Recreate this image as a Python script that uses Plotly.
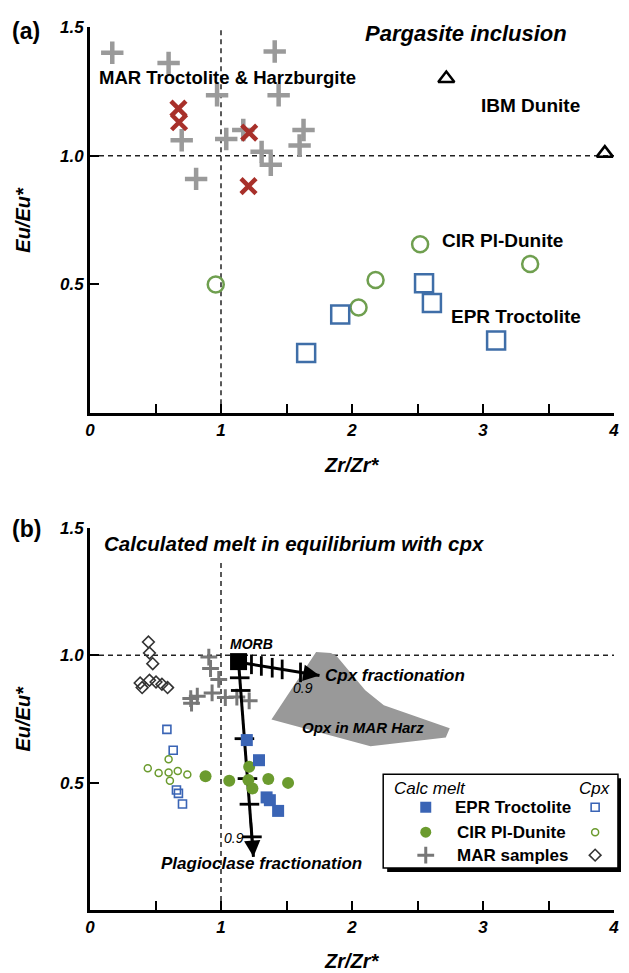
import plotly.graph_objects as go

FONT = "Liberation Sans, Arial, Helvetica, sans-serif"

# ---------------- Panel (a): Pargasite inclusion ----------------
mar_plus_x = [0.17, 0.60, 0.97, 1.41, 1.44, 0.70, 1.04, 1.17, 1.31, 1.38, 0.81, 1.63, 1.60]
mar_plus_y = [1.40, 1.36, 1.235, 1.405, 1.235, 1.06, 1.065, 1.10, 1.015, 0.965, 0.91, 1.10, 1.04]
mar_x_x = [0.675, 0.68, 1.215, 1.21]
mar_x_y = [1.183, 1.13, 1.09, 0.882]
ibm_x = [2.72, 3.93]
ibm_y = [1.30, 1.01]
cir_x = [0.96, 2.05, 2.18, 2.52, 3.36]
cir_y = [0.50, 0.41, 0.517, 0.656, 0.579]
epr_x = [1.65, 1.91, 2.55, 2.61, 3.10]
epr_y = [0.234, 0.383, 0.505, 0.428, 0.282]

# ---------------- Panel (b): calculated melt ----------------
morb_x = [1.134]
morb_y = [0.975]
epr_melt_x = [1.197, 1.29, 1.348, 1.373, 1.436]
epr_melt_y = [0.667, 0.588, 0.442, 0.431, 0.389]
cir_melt_x = [0.882, 1.063, 1.215, 1.209, 1.24, 1.361, 1.512]
cir_melt_y = [0.525, 0.507, 0.562, 0.51, 0.477, 0.514, 0.499]
mar_melt_x = [0.907, 0.92, 0.983, 0.769, 0.775, 0.819, 0.932, 1.033, 1.121, 1.215]
mar_melt_y = [0.993, 0.948, 0.905, 0.83, 0.812, 0.839, 0.852, 0.834, 0.836, 0.821]
epr_cpx_x = [0.587, 0.635, 0.66, 0.675, 0.706]
epr_cpx_y = [0.709, 0.627, 0.471, 0.458, 0.416]
cir_cpx_x = [0.441, 0.524, 0.60, 0.60, 0.61, 0.67, 0.743]
cir_cpx_y = [0.556, 0.538, 0.592, 0.54, 0.507, 0.546, 0.532]
mar_cpx_x = [0.446, 0.454, 0.479, 0.383, 0.398, 0.454, 0.504, 0.549, 0.592]
mar_cpx_y = [1.052, 1.009, 0.967, 0.891, 0.873, 0.902, 0.895, 0.886, 0.873]

# fractionation paths (start = MORB, end = arrow tip) and tick marks
cpx_path_x = [1.134, 1.752]
cpx_path_y = [0.9726, 0.9205]
cpx_tick_x = [1.2325, 1.308, 1.391, 1.467, 1.607]
cpx_tick_y = [0.9643, 0.958, 0.951, 0.9445, 0.9327]
plag_path_x = [1.134, 1.2476]
plag_path_y = [0.9726, 0.2088]
plag_tick_x = [1.143, 1.1505, 1.1787, 1.202, 1.217, 1.236]
plag_tick_y = [0.9115, 0.8617, 0.6725, 0.5158, 0.4152, 0.2871]

# Opx field in MAR harzburgite
opx_x = [1.726, 1.839, 1.884, 2.101, 2.243, 2.746, 2.716, 2.141, 1.385, 1.726]
opx_y = [1.013, 1.009, 0.996, 0.863, 0.804, 0.713, 0.677, 0.643, 0.748, 1.013]

# axis ticks
x_tickvals = [0, 0.5, 1, 1.5, 2, 2.5, 3, 3.5, 4]
x_ticktext = ["0", "", "1", "", "2", "", "3", "", "4"]
y_tickvals = [0.5, 1.0, 1.5]
y_ticktext = ["0.5", "1.0", "1.5"]

RED = "#a8302a"
GRAY_A = "#9a9a9a"
GRAY_B = "#777777"
GREEN_A = "#6f9f4f"
BLUE_A = "#3f6ea8"
BLUE_B = "#3a64b5"
GREEN_B = "#6b9b2e"

fig = go.Figure()

def sc(x, y, symbol, size, color, lw=0, fill=None, xa="x", ya="y"):
    m = dict(symbol=symbol, size=size, line=dict(color=color, width=lw))
    m["color"] = fill if fill is not None else color
    fig.add_trace(go.Scatter(x=x, y=y, mode="markers", marker=m, xaxis=xa, yaxis=ya,
                             showlegend=False, cliponaxis=False, hoverinfo="skip"))

# panel (a)
sc(mar_plus_x, mar_plus_y, "cross-thin-open", 16, GRAY_A, 4.5)
sc(mar_x_x, mar_x_y, "x-thin-open", 15, RED, 4.5)
sc(ibm_x, ibm_y, "triangle-up-open", 14, "black", 2.5)
sc(cir_x, cir_y, "circle-open", 16, GREEN_A, 2.5)
sc(epr_x, epr_y, "square-open", 18, BLUE_A, 2.5)

# panel (b)
fig.add_trace(go.Scatter(x=opx_x, y=opx_y, mode="lines", fill="toself", fillcolor="#999999",
                         line=dict(width=0, color="#999999"), xaxis="x2", yaxis="y2",
                         showlegend=False, hoverinfo="skip"))
sc(mar_cpx_x, mar_cpx_y, "diamond-open", 9, "#333333", 1.6, xa="x2", ya="y2")
sc(cir_cpx_x, cir_cpx_y, "circle-open", 7, GREEN_B, 1.5, xa="x2", ya="y2")
sc(epr_cpx_x, epr_cpx_y, "square-open", 8, BLUE_B, 1.6, xa="x2", ya="y2")
sc(mar_melt_x, mar_melt_y, "cross-thin-open", 12, GRAY_B, 3, xa="x2", ya="y2")

for px_, py_ in [(cpx_path_x, cpx_path_y), (plag_path_x, plag_path_y)]:
    fig.add_trace(go.Scatter(x=px_, y=py_, mode="lines", line=dict(color="black", width=3),
                             xaxis="x2", yaxis="y2", showlegend=False, hoverinfo="skip"))
sc(cpx_tick_x, cpx_tick_y, "line-ns", 14, "black", 2.8, xa="x2", ya="y2")
sc(plag_tick_x, plag_tick_y, "line-ew", 14, "black", 2.8, xa="x2", ya="y2")

sc(cir_melt_x, cir_melt_y, "circle", 12, GREEN_B, 0, xa="x2", ya="y2")
sc(epr_melt_x, epr_melt_y, "square", 12, BLUE_B, 0, xa="x2", ya="y2")
sc(morb_x, morb_y, "square", 17, "black", 0, xa="x2", ya="y2")

# legend markers (custom two-column legend)
leg_melt_x = 2.563
leg_cpx_x = 3.856
leg_rows = [0.4034, 0.3055, 0.2154]
sc([leg_melt_x], [leg_rows[0]], "square", 11, BLUE_B, 0, xa="x2", ya="y2")
sc([leg_melt_x], [leg_rows[1]], "circle", 11, GREEN_B, 0, xa="x2", ya="y2")
sc([leg_melt_x], [leg_rows[2]], "cross-thin-open", 12, GRAY_B, 3, xa="x2", ya="y2")
sc([leg_cpx_x], [leg_rows[0]], "square-open", 8, BLUE_B, 1.6, xa="x2", ya="y2")
sc([leg_cpx_x], [leg_rows[1]], "circle-open", 7, GREEN_B, 1.5, xa="x2", ya="y2")
sc([leg_cpx_x], [leg_rows[2]], "diamond-open", 9, "#333333", 1.6, xa="x2", ya="y2")

# ---------------- layout ----------------
def xax(anchor):
    return dict(range=[0, 4], tickvals=x_tickvals, ticktext=x_ticktext, ticks="inside",
                ticklen=9, tickwidth=2, tickcolor="black", showline=True, linewidth=2.8,
                linecolor="black", showgrid=False, zeroline=False, anchor=anchor,
                tickfont=dict(family=FONT, size=17, color="black", weight="bold", style="italic"))

def yax(anchor, dom):
    return dict(range=[0, 1.5], tickvals=y_tickvals, ticktext=y_ticktext, ticks="inside",
                ticklen=9, tickwidth=2, tickcolor="black", showline=True, linewidth=2.8,
                linecolor="black", showgrid=False, zeroline=False, anchor=anchor, domain=dom,
                tickfont=dict(family=FONT, size=17, color="black", weight="bold", style="italic"))

# page has an 8px body margin: size the figure so the plot area lands on the reference pixels
OFF = 8
W, H = 629 - OFF, 973 - OFF
ML, MR, MT, MB = 90 - OFF, 10, 25 - OFF, 63
PW, PH = W - ML - MR, H - MT - MB

def pxp(px):
    return (px - OFF - ML) / PW

def pyp(py):
    return (H - MB - (py - OFF)) / PH

fig.update_layout(
    width=W, height=H, margin=dict(l=ML, r=MR, t=MT, b=MB),
    paper_bgcolor="white", plot_bgcolor="rgba(0,0,0,0)",
    xaxis=xax("y"), yaxis=yax("x", [pyp(412), 1.0]),
    xaxis2=xax("y2"), yaxis2=yax("x2", [0.0, pyp(527)]),
    showlegend=False,
)

dash = dict(color="#222222", width=1.5, dash="5px,4px")
shapes = [
    dict(type="line", xref="x", yref="y", x0=1, x1=1, y0=0, y1=1.49, line=dash, layer="below"),
    dict(type="line", xref="x", yref="y", x0=0, x1=4, y0=1, y1=1, line=dash, layer="below"),
    dict(type="line", xref="x2", yref="y2", x0=1, x1=1, y0=0, y1=1.37, line=dash, layer="below"),
    dict(type="line", xref="x2", yref="y2", x0=0, x1=4, y0=1, y1=1, line=dash, layer="below"),
    # legend box with shadow
    dict(type="rect", xref="paper", yref="paper", x0=pxp(390), x1=pxp(627), y0=pyp(872), y1=pyp(778),
         fillcolor="black", line=dict(width=0), layer="below"),
    dict(type="rect", xref="paper", yref="paper", x0=pxp(386), x1=pxp(623), y0=pyp(868), y1=pyp(774),
         fillcolor="white", line=dict(color="black", width=1.5), layer="below"),
]
fig.update_layout(shapes=shapes)

def ann(text, x, y, size, bold=True, italic=False, xref="x", yref="y", xanchor="center",
        angle=0):
    f = dict(family=FONT, size=size, color="black")
    if bold:
        f["weight"] = "bold"
    if italic:
        f["style"] = "italic"
    return dict(text=text, x=x, y=y, xref=xref, yref=yref, showarrow=False, font=f,
                xanchor=xanchor, yanchor="middle", textangle=angle)

annotations = [
    ann("(a)", pxp(25), pyp(29), 23, xref="paper", yref="paper"),
    ann("(b)", pxp(26), pyp(528), 23, xref="paper", yref="paper"),
    ann("Eu/Eu*", pxp(22), pyp(218.5), 20, italic=True, xref="paper", yref="paper", angle=-90),
    ann("Eu/Eu*", pxp(22), pyp(718.5), 20, italic=True, xref="paper", yref="paper", angle=-90),
    ann("Zr/Zr*", pxp(355), pyp(464), 20, italic=True, xref="paper", yref="paper"),
    ann("Zr/Zr*", pxp(355), pyp(961), 20, italic=True, xref="paper", yref="paper"),
    # panel (a) labels
    ann("Pargasite inclusion", 2.871, 1.473, 22, italic=True),
    ann("MAR Troctolite &amp; Harzburgite", 1.047, 1.302, 18.5),
    ann("IBM Dunite", 3.365, 1.194, 19),
    ann("CIR Pl-Dunite", 3.146, 0.6705, 19),
    ann("EPR Troctolite", 3.255, 0.376, 19),
    # panel (b) labels
    ann("Calculated melt in equilibrium with cpx", 0.0907, 1.4375, 20.5, italic=True,
        xref="x2", yref="y2", xanchor="left"),
    ann("MORB", 1.230, 1.0447, 14, italic=True, xref="x2", yref="y2"),
    ann("Cpx fractionation", 1.777, 0.9205, 17, italic=True, xref="x2", yref="y2", xanchor="left"),
    ann("Opx in MAR Harz", 2.087, 0.7168, 15, italic=True, xref="x2", yref="y2"),
    ann("Plagioclase fractionation", 1.312, 0.184, 17, italic=True, xref="x2", yref="y2"),
    ann("0.9", 1.626, 0.8715, 14, bold=False, italic=True, xref="x2", yref="y2"),
    ann("0.9", 1.096, 0.282, 14, bold=False, italic=True, xref="x2", yref="y2"),
    # legend texts
    ann("Calc melt", pxp(395), pyp(788), 17, bold=False, italic=True, xref="paper", yref="paper",
        xanchor="left"),
    ann("Cpx", pxp(617), pyp(788), 17, bold=False, italic=True, xref="paper", yref="paper",
        xanchor="right"),
    ann("EPR Troctolite", pxp(517), pyp(807), 17, xref="paper", yref="paper"),
    ann("CIR Pl-Dunite", pxp(516), pyp(832), 17, xref="paper", yref="paper"),
    ann("MAR samples", pxp(516.5), pyp(855), 17, xref="paper", yref="paper"),
]

# arrowheads at the end of the fractionation paths
for px_, py_ in [(cpx_path_x, cpx_path_y), (plag_path_x, plag_path_y)]:
    fx = px_[0] + (px_[1] - px_[0]) * 0.8
    fy = py_[0] + (py_[1] - py_[0]) * 0.8
    annotations.append(dict(x=px_[1], y=py_[1], ax=fx, ay=fy, xref="x2", yref="y2",
                            axref="x2", ayref="y2", showarrow=True, arrowhead=2,
                            arrowsize=1.3, arrowwidth=2.5, arrowcolor="black", text="",
                            standoff=0))
fig.update_layout(annotations=annotations)

fig.write_html("out.html")
